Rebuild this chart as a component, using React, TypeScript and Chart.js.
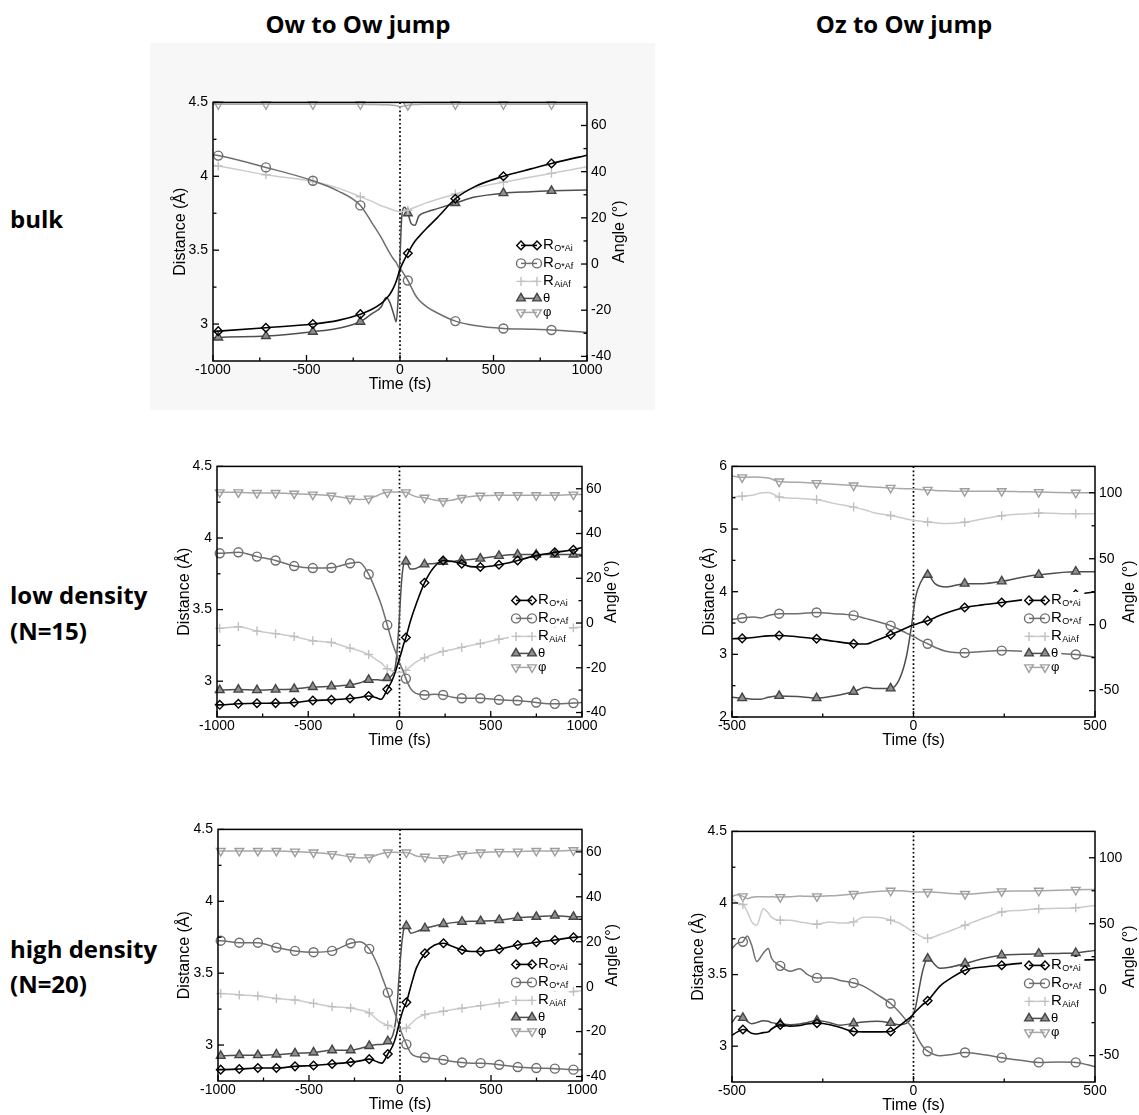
import React, { useEffect, useRef } from 'react';
import { Chart, registerables } from 'chart.js';
import { drawPoint } from 'chart.js/helpers';

Chart.register(...registerables);

const FONT = '"Liberation Sans", Arial, Helvetica, sans-serif';
const TITLE_FONT = '"Open Sans", "Noto Sans", sans-serif';

// ---------- labels ----------
const columnTitles = ['Ow to Ow jump', 'Oz to Ow jump'];
const rowTitles = [['bulk'], ['low density', '(N=15)'], ['high density', '(N=20)']];
const legendMain = ['R', 'R', 'R', 'θ', 'φ'];
const legendSub = ['O*Ai', 'O*Af', 'AiAf', '', ''];
const xTitle = 'Time (fs)';
const leftTitle = 'Distance (Å)';
const rightTitle = 'Angle (°)';

// ---------- tick values ----------
const owXTicks = [-1000, -500, 0, 500, 1000];
const owXMinor = [-750, -250, 250, 750];
const ozXTicks = [-500, 0, 500];
const ozXMinor = [-250, 250];
const distTicksA = [3, 3.5, 4, 4.5];
const distMinorA = [3.25, 3.75, 4.25];
const distTicksB = [2, 3, 4, 5, 6];
const distMinorB = [2.5, 3.5, 4.5, 5.5];
const angleTicksA = [-40, -20, 0, 20, 40, 60];
const angleMinorA = [-30, -10, 10, 30, 50];
const angleTicksB = [-50, 0, 50, 100];
const angleMinorB = [-25, 25, 75];

// ---------- bulk (Ow to Ow) ----------
const bulkTime = [-1000, -972, -717, -466, -330, -212, -150, -100, -75, -55, -35, -20, -10, 0, 10, 25, 42, 60, 80, 100, 140, 200, 296, 400, 553, 700, 810, 1000];
const bulkROAi = [2.95, 2.952, 2.975, 3.0, 3.025, 3.067, 3.1, 3.14, 3.17, 3.2, 3.245, 3.29, 3.33, 3.37, 3.4, 3.44, 3.479, 3.52, 3.56, 3.59, 3.645, 3.72, 3.848, 3.93, 4.0, 4.05, 4.087, 4.143];
const bulkROAf = [4.145, 4.14, 4.06, 3.97, 3.9, 3.803, 3.685, 3.585, 3.525, 3.48, 3.44, 3.415, 3.39, 3.375, 3.36, 3.33, 3.295, 3.25, 3.2, 3.165, 3.12, 3.075, 3.02, 2.99, 2.97, 2.965, 2.96, 2.945];
const bulkRAiAf = [4.075, 4.07, 4.01, 3.965, 3.92, 3.862, 3.83, 3.8, 3.79, 3.78, 3.77, 3.765, 3.762, 3.76, 3.76, 3.765, 3.77, 3.78, 3.79, 3.8, 3.82, 3.845, 3.88, 3.92, 3.96, 3.995, 4.02, 4.065];
const bulkTheta = [-32.0, -31.8, -31.2, -29.3, -27.8, -25.0, -21.5, -18.5, -14.5, -16.5, -21.4, -25.0, -15, 3, 21, 24.6, 22.0, 17.5, 16.8, 20.7, 22.5, 24.0, 26.4, 29.0, 30.7, 31.3, 31.7, 32.1];
const bulkPhi = [69.2, 69.2, 69.2, 69.2, 69.2, 69.2, 69.1, 69.0, 69.0, 68.9, 68.8, 68.6, 68.3, 68.0, 68.2, 68.5, 68.8, 69.0, 69.1, 69.1, 69.2, 69.2, 69.2, 69.2, 69.2, 69.2, 69.2, 69.2];
const bulkMarkers = [-972, -717, -466, -212, 42, 296, 553, 810];

// ---------- low density, Ow to Ow ----------
const owTime = [-1000, -985, -883, -781, -679, -577, -475, -373, -271, -220, -169, -120, -100, -67, -40, -20, -5, 10, 20, 35, 60, 90, 137, 190, 239, 290, 341, 390, 443, 545, 647, 749, 851, 953, 1000];
const owMarkers = [-985, -883, -781, -679, -577, -475, -373, -271, -169, -67, 35, 137, 239, 341, 443, 545, 647, 749, 851, 953];
const lowOwROAi = [2.835, 2.835, 2.842, 2.846, 2.847, 2.851, 2.865, 2.87, 2.879, 2.886, 2.897, 2.881, 2.874, 2.943, 3.007, 3.076, 3.14, 3.2, 3.247, 3.305, 3.42, 3.534, 3.687, 3.797, 3.843, 3.836, 3.82, 3.8, 3.797, 3.813, 3.843, 3.877, 3.9, 3.918, 3.934];
const lowOwROAf = [3.893, 3.893, 3.9, 3.87, 3.843, 3.804, 3.79, 3.792, 3.824, 3.831, 3.747, 3.602, 3.534, 3.392, 3.27, 3.2, 3.144, 3.099, 3.071, 3.018, 2.95, 2.915, 2.904, 2.908, 2.904, 2.888, 2.881, 2.881, 2.881, 2.87, 2.865, 2.851, 2.842, 2.847, 2.851];
const lowOwRAiAf = [3.369, 3.369, 3.38, 3.35, 3.332, 3.312, 3.282, 3.27, 3.231, 3.213, 3.186, 3.144, 3.128, 3.087, 3.071, 3.064, 3.06, 3.06, 3.064, 3.076, 3.103, 3.133, 3.163, 3.19, 3.208, 3.222, 3.236, 3.25, 3.263, 3.293, 3.316, 3.334, 3.355, 3.373, 3.378];
const lowOwTheta = [-30.0, -30.0, -29.75, -30.0, -29.75, -29.46, -28.6, -28.3, -27.6, -26.8, -25.4, -25.4, -25.6, -24.6, -23.2, -18.0, -3.4, 17.1, 25.2, 27.5, 24.1, 24.4, 26.2, 26.6, 27.4, 27.6, 28.1, 28.4, 28.8, 30.0, 30.6, 30.6, 30.6, 30.6, 30.6];
const lowOwPhi = [58.4, 58.4, 58.4, 58.1, 58.1, 57.8, 57.4, 56.9, 55.6, 55.2, 55.6, 57.0, 57.8, 58.4, 58.6, 58.6, 58.5, 58.5, 58.4, 58.4, 57.5, 56.5, 56.0, 55.0, 54.4, 55.0, 55.9, 56.5, 56.9, 57.1, 57.1, 57.1, 57.1, 57.4, 57.4];

// ---------- high density, Ow to Ow ----------
const highOwROAi = [2.829, 2.829, 2.833, 2.84, 2.84, 2.852, 2.858, 2.868, 2.881, 2.89, 2.902, 2.881, 2.874, 2.938, 2.995, 3.069, 3.148, 3.217, 3.256, 3.297, 3.411, 3.537, 3.639, 3.696, 3.708, 3.685, 3.662, 3.651, 3.651, 3.667, 3.696, 3.715, 3.731, 3.749, 3.753];
const highOwROAf = [3.726, 3.726, 3.712, 3.712, 3.678, 3.655, 3.646, 3.655, 3.708, 3.719, 3.669, 3.548, 3.479, 3.365, 3.263, 3.194, 3.137, 3.08, 3.05, 3.005, 2.943, 2.92, 2.913, 2.904, 2.897, 2.886, 2.879, 2.874, 2.874, 2.863, 2.847, 2.84, 2.836, 2.829, 2.829];
const highOwRAiAf = [3.358, 3.358, 3.349, 3.342, 3.324, 3.313, 3.29, 3.267, 3.258, 3.244, 3.224, 3.171, 3.155, 3.137, 3.123, 3.114, 3.112, 3.112, 3.114, 3.119, 3.148, 3.183, 3.212, 3.224, 3.235, 3.247, 3.256, 3.265, 3.274, 3.292, 3.308, 3.324, 3.347, 3.372, 3.377];
const highOwTheta = [-30.8, -30.8, -30.5, -30.5, -30.2, -29.7, -29.3, -28.3, -28.3, -27.5, -26.4, -25.8, -25.8, -24.3, -21.7, -12.9, 4.7, 19.4, 25.2, 27.0, 23.8, 24.5, 26.0, 27.0, 27.9, 28.5, 28.9, 29.1, 29.2, 29.6, 30.7, 31.1, 31.6, 31.1, 31.1];
const highOwPhi = [60.4, 60.4, 60.4, 60.4, 60.4, 60.1, 59.7, 59.0, 57.8, 57.3, 57.5, 58.8, 59.3, 59.7, 59.8, 59.8, 59.7, 59.7, 59.7, 59.7, 59.2, 58.2, 57.8, 57.2, 57.2, 58.2, 59.0, 59.4, 59.7, 60.0, 60.1, 60.4, 60.4, 60.7, 60.7];

// ---------- low density, Oz to Ow ----------
const lowOzTime = [-500, -472, -440, -420, -400, -370, -320, -267, -220, -165, -130, -110, -63, -40, -20, -5, 5, 20, 39, 60, 90, 141, 190, 243, 300, 345, 447, 500];
const lowOzMarkers = [-472, -370, -267, -165, -63, 39, 141, 243, 345, 447];
const lowOzROAi = [3.25, 3.255, 3.27, 3.285, 3.295, 3.302, 3.28, 3.25, 3.21, 3.17, 3.165, 3.205, 3.312, 3.37, 3.42, 3.46, 3.48, 3.51, 3.538, 3.59, 3.66, 3.748, 3.79, 3.827, 3.87, 3.906, 3.958, 3.995];
const lowOzROAf = [3.555, 3.58, 3.595, 3.58, 3.62, 3.649, 3.65, 3.669, 3.65, 3.622, 3.57, 3.54, 3.459, 3.4, 3.34, 3.3, 3.27, 3.22, 3.17, 3.11, 3.05, 3.024, 3.045, 3.06, 3.05, 3.03, 2.997, 2.955];
const lowOzRAiAf = [5.51, 5.523, 5.545, 5.575, 5.585, 5.512, 5.49, 5.47, 5.41, 5.35, 5.3, 5.26, 5.217, 5.19, 5.16, 5.145, 5.135, 5.125, 5.113, 5.1, 5.087, 5.108, 5.16, 5.213, 5.24, 5.255, 5.244, 5.245];
const lowOzTheta = [-55, -55.7, -56.5, -56.5, -55, -54.0, -54.5, -55.7, -54, -50.8, -47.5, -48.3, -48.3, -42, -24.7, 0, 20, 32.3, 37.8, 31, 28.6, 31.1, 31.1, 32.8, 36, 37.8, 40.2, 40.2];
const lowOzPhi = [112.8, 111.7, 112, 111.7, 111.2, 108.5, 108, 107.3, 106.5, 105.5, 104.8, 104.4, 103.7, 103.3, 103.1, 103, 102.8, 102.5, 102.2, 101.8, 101.5, 101.2, 101.2, 101.2, 100.8, 100.5, 100, 100];

// ---------- high density, Oz to Ow ----------
const highOzTime = [-500, -485, -470, -458, -446, -432, -414, -400, -391, -367, -340, -313, -294, -266, -230, -202, -165, -138, -101, -63, -40, -20, -5, 5, 15, 25, 39, 73, 100, 142, 200, 243, 300, 345, 400, 447, 500];
const highOzMarkers = [-470, -367, -266, -165, -63, 39, 142, 243, 345, 447];
const highOzROAi = [3.076, 3.1, 3.117, 3.11, 3.09, 3.085, 3.095, 3.1, 3.12, 3.149, 3.14, 3.145, 3.155, 3.16, 3.15, 3.13, 3.103, 3.1, 3.1, 3.103, 3.14, 3.18, 3.21, 3.24, 3.265, 3.29, 3.317, 3.42, 3.47, 3.531, 3.555, 3.565, 3.58, 3.585, 3.595, 3.6, 3.604];
const highOzROAf = [3.683, 3.72, 3.729, 3.77, 3.706, 3.592, 3.649, 3.683, 3.614, 3.561, 3.523, 3.541, 3.504, 3.477, 3.477, 3.459, 3.442, 3.42, 3.362, 3.298, 3.24, 3.18, 3.133, 3.09, 3.04, 3.0, 2.965, 2.933, 2.94, 2.956, 2.938, 2.92, 2.9, 2.887, 2.89, 2.887, 2.857];
const highOzRAiAf = [4.03, 4.0, 3.99, 3.94, 3.87, 3.845, 3.96, 3.93, 3.9, 3.88, 3.88, 3.868, 3.86, 3.852, 3.868, 3.86, 3.868, 3.9, 3.9, 3.88, 3.86, 3.83, 3.805, 3.79, 3.775, 3.762, 3.753, 3.78, 3.805, 3.845, 3.9, 3.937, 3.95, 3.96, 3.963, 3.967, 3.983];
const highOzTheta = [-25, -20, -21.4, -24, -25.9, -25, -23.5, -24, -25, -25.9, -26.5, -26, -25, -23.4, -25, -27, -25.5, -24.5, -24, -25.2, -26.5, -25.5, -21, -14, 0, 14, 23.6, 16.2, 17, 19.9, 24, 26.1, 26.8, 27.3, 27.5, 27.8, 29.8];
const highOzPhi = [70.7, 72, 70.7, 69, 70, 70.5, 70.5, 70.3, 70.5, 70.2, 70.5, 71, 70.8, 70.7, 71.2, 71.5, 72.5, 73.5, 74.5, 75, 75, 74.7, 74.3, 74.1, 74, 74, 74, 73.6, 73, 72.5, 73.5, 74.5, 74.8, 75, 75.3, 75.7, 76];

// ---------- styles ----------
type SeriesStyle = { line: string; border: string; fill: string; shape: string; r: number; rot: number; axis: string; lw: number };
const seriesStyles: SeriesStyle[] = [
  { line: '#000000', border: '#000000', fill: 'rgba(255,255,255,0)', shape: 'rectRot', r: 4.3, rot: 0, axis: 'y', lw: 1.6 },
  { line: '#6e6e6e', border: '#6e6e6e', fill: 'rgba(255,255,255,0)', shape: 'circle', r: 4.5, rot: 0, axis: 'y', lw: 1.5 },
  { line: '#cbcbcb', border: '#c0c0c0', fill: 'rgba(255,255,255,0)', shape: 'cross', r: 4.5, rot: 0, axis: 'y', lw: 1.5 },
  { line: '#4e4e4e', border: '#444444', fill: '#8f8f8f', shape: 'triangle', r: 5, rot: 0, axis: 'y2', lw: 1.5 },
  { line: '#a8a8a8', border: '#9e9e9e', fill: 'rgba(255,255,255,0)', shape: 'triangle', r: 5, rot: 180, axis: 'y2', lw: 1.5 },
];
const legendOffsets = [0, 18, 36, 53, 67];

type PanelCfg = {
  area: { left: number; top: number; width: number; height: number };
  time: number[];
  series: number[][];
  markers: number[];
  xr: [number, number];
  dr: [number, number];
  ar: [number, number];
  xt: number[]; xm: number[];
  dt: number[]; dm: number[];
  at: number[]; am: number[];
  ltx: number; rtx: number; lgTop: number;
};

const panels: PanelCfg[] = [
  { area: { left: 213, top: 99, width: 374, height: 262 }, time: bulkTime, series: [bulkROAi, bulkROAf, bulkRAiAf, bulkTheta, bulkPhi], markers: bulkMarkers, xr: [-1000, 1000], dr: [2.75, 4.5], ar: [-42, 70], xt: owXTicks, xm: owXMinor, dt: distTicksA, dm: distMinorA, at: angleTicksA, am: angleMinorA, ltx: -32, rtx: 33, lgTop: 143 },
  { area: { left: 217, top: 463, width: 365, height: 254 }, time: owTime, series: [lowOwROAi, lowOwROAf, lowOwRAiAf, lowOwTheta, lowOwPhi], markers: owMarkers, xr: [-1000, 1000], dr: [2.75, 4.5], ar: [-42, 70], xt: owXTicks, xm: owXMinor, dt: distTicksA, dm: distMinorA, at: angleTicksA, am: angleMinorA, ltx: -32, rtx: 30, lgTop: 134 },
  { area: { left: 732, top: 463, width: 363, height: 254 }, time: lowOzTime, series: [lowOzROAi, lowOzROAf, lowOzRAiAf, lowOzTheta, lowOzPhi], markers: lowOzMarkers, xr: [-500, 500], dr: [2, 6], ar: [-70, 120], xt: ozXTicks, xm: ozXMinor, dt: distTicksB, dm: distMinorB, at: angleTicksB, am: angleMinorB, ltx: -22, rtx: 35, lgTop: 134 },
  { area: { left: 218, top: 826, width: 364, height: 255 }, time: owTime, series: [highOwROAi, highOwROAf, highOwRAiAf, highOwTheta, highOwPhi], markers: owMarkers, xr: [-1000, 1000], dr: [2.75, 4.5], ar: [-42, 70], xt: owXTicks, xm: owXMinor, dt: distTicksA, dm: distMinorA, at: angleTicksA, am: angleMinorA, ltx: -33, rtx: 31, lgTop: 135 },
  { area: { left: 732, top: 828, width: 363, height: 254 }, time: highOzTime, series: [highOzROAi, highOzROAf, highOzRAiAf, highOzTheta, highOzPhi], markers: highOzMarkers, xr: [-500, 500], dr: [2.75, 4.5], ar: [-70, 120], xt: ozXTicks, xm: ozXMinor, dt: distTicksA, dm: distMinorA, at: angleTicksB, am: angleMinorB, ltx: -33, rtx: 35, lgTop: 134 },
];

const WL = 46, WR = 48, PT = 10, HX = 34;

function Panel({ cfg }: { cfg: PanelCfg }) {
  const ref = useRef<HTMLCanvasElement>(null);
  const cw = WL + cfg.area.width + WR;
  const ch = PT + cfg.area.height + HX;

  useEffect(() => {
    const canvas = ref.current;
    if (!canvas) return;

    const datasets = cfg.series.map((vals, si) => {
      const st = seriesStyles[si];
      return {
        label: legendMain[si] + legendSub[si],
        data: cfg.time.map((t, i) => ({ x: t, y: vals[i] })),
        yAxisID: st.axis,
        borderColor: st.line,
        borderWidth: st.lw,
        pointStyle: st.shape,
        pointRotation: st.rot,
        pointBorderColor: st.border,
        pointBackgroundColor: st.fill,
        pointBorderWidth: 1.4,
        pointRadius: (ctx: any) => (ctx.raw && cfg.markers.includes(ctx.raw.x) ? st.r : 0),
        pointHoverRadius: 0,
        cubicInterpolationMode: 'monotone',
        fill: false,
        clip: false,
      };
    });

    const deco = {
      id: 'deco',
      beforeDraw(chart: any) {
        const a = chart.chartArea;
        const c = chart.ctx;
        c.save();
        c.fillStyle = '#ffffff';
        c.fillRect(a.left, a.top, a.right - a.left, a.bottom - a.top);
        c.restore();
      },
      beforeDatasetsDraw(chart: any) {
        const a = chart.chartArea;
        const c = chart.ctx;
        const x0 = chart.scales.x.getPixelForValue(0);
        c.save();
        c.strokeStyle = '#000';
        c.lineWidth = 1.7;
        c.setLineDash([1.7, 2.4]);
        c.beginPath();
        c.moveTo(x0, a.top);
        c.lineTo(x0, a.bottom);
        c.stroke();
        c.restore();
      },
      afterDatasetsDraw(chart: any) {
        const a = chart.chartArea;
        const c = chart.ctx;
        const xs = chart.scales.x, ys = chart.scales.y, y2s = chart.scales.y2;
        c.save();
        c.strokeStyle = '#000';
        c.lineWidth = 1.5;
        c.setLineDash([]);
        c.strokeRect(a.left, a.top, a.right - a.left, a.bottom - a.top);
        const seg = (x1: number, y1: number, x2: number, y2: number) => {
          c.beginPath(); c.moveTo(x1, y1); c.lineTo(x2, y2); c.stroke();
        };
        c.lineWidth = 1.3;
        cfg.dt.forEach(v => { const y = ys.getPixelForValue(v); seg(a.left, y, a.left + 6, y); });
        cfg.dm.forEach(v => { const y = ys.getPixelForValue(v); seg(a.left, y, a.left + 3.5, y); });
        cfg.at.forEach(v => { const y = y2s.getPixelForValue(v); seg(a.right, y, a.right - 6, y); });
        cfg.am.forEach(v => { const y = y2s.getPixelForValue(v); seg(a.right, y, a.right - 3.5, y); });
        cfg.xt.forEach(v => { const x = xs.getPixelForValue(v); seg(x, a.bottom, x, a.bottom - 6); });
        cfg.xm.forEach(v => { const x = xs.getPixelForValue(v); seg(x, a.bottom, x, a.bottom - 3.5); });

        c.fillStyle = '#000';
        c.font = `16px ${FONT}`;
        c.textAlign = 'center';
        c.textBaseline = 'middle';
        c.fillText(xTitle, (a.left + a.right) / 2, a.bottom + 24);
        const cy = (a.top + a.bottom) / 2;
        c.save();
        c.translate(a.left + cfg.ltx, cy);
        c.rotate(-Math.PI / 2);
        c.fillText(leftTitle, 0, 0);
        c.restore();
        c.save();
        c.translate(a.right + cfg.rtx, cy);
        c.rotate(-Math.PI / 2);
        c.fillText(rightTitle, 0, 0);
        c.restore();

        const lx0 = a.right - 66, lx1 = a.right - 50, tx = a.right - 44;
        const rowY = legendOffsets.map(o => a.top + cfg.lgTop + o);
        const widths = legendMain.map((m, i) => {
          let w;
          if (legendSub[i]) {
            c.font = `15px ${FONT}`; w = c.measureText(m).width;
            c.font = `9px ${FONT}`; w += c.measureText(legendSub[i]).width + 1;
          } else {
            c.font = `13px ${FONT}`; w = c.measureText(m).width;
          }
          return w;
        });
        c.fillStyle = '#ffffff';
        rowY.forEach((y, i) => {
          c.fillRect(lx0 - 7, y - 8.5, tx + widths[i] + 3 - (lx0 - 7), 17);
        });
        rowY.forEach((y, i) => {
          const st = seriesStyles[i];
          c.setLineDash([]);
          c.strokeStyle = st.line;
          c.lineWidth = st.lw;
          seg(lx0, y, lx1, y);
          c.lineWidth = 1.4;
          [lx0, lx1].forEach(px => {
            c.strokeStyle = st.border;
            c.fillStyle = st.fill;
            drawPoint(c, { pointStyle: st.shape, radius: st.r, rotation: st.rot, borderWidth: 1.4 } as any, px, y);
          });
          c.fillStyle = '#000';
          c.textAlign = 'left';
          if (legendSub[i]) {
            c.textBaseline = 'alphabetic';
            c.font = `15px ${FONT}`;
            c.fillText(legendMain[i], tx, y + 3.5);
            const w = c.measureText(legendMain[i]).width;
            c.font = `9px ${FONT}`;
            c.fillText(legendSub[i], tx + w + 0.5, y + 5.8);
          } else {
            c.textBaseline = 'middle';
            c.font = `13px ${FONT}`;
            c.fillText(legendMain[i], tx, y + 0.5);
          }
        });
        c.restore();
      },
    };

    const tickFont = { family: FONT, size: 14 };
    const chart = new Chart(canvas, {
      type: 'line',
      data: { datasets: datasets as any },
      options: {
        responsive: false,
        animation: false,
        events: [],
        layout: { padding: { top: PT, left: 0, right: 0, bottom: 0 } },
        plugins: { legend: { display: false }, tooltip: { enabled: false } },
        scales: {
          x: {
            type: 'linear', position: 'bottom', min: cfg.xr[0], max: cfg.xr[1],
            afterBuildTicks: (s: any) => { s.ticks = cfg.xt.map(v => ({ value: v })); },
            afterFit: (s: any) => { s.height = HX; },
            ticks: { callback: (v: any) => String(v), font: tickFont, color: '#000', padding: 1, maxRotation: 0, autoSkip: false },
            grid: { display: false, drawTicks: false },
            border: { display: false },
          },
          y: {
            type: 'linear', position: 'left', min: cfg.dr[0], max: cfg.dr[1],
            afterBuildTicks: (s: any) => { s.ticks = cfg.dt.map(v => ({ value: v })); },
            afterFit: (s: any) => { s.width = WL; },
            ticks: { callback: (v: any) => String(v), font: tickFont, color: '#000', padding: 5, autoSkip: false },
            grid: { display: false, drawTicks: false },
            border: { display: false },
          },
          y2: {
            type: 'linear', position: 'right', min: cfg.ar[0], max: cfg.ar[1],
            afterBuildTicks: (s: any) => { s.ticks = cfg.at.map(v => ({ value: v })); },
            afterFit: (s: any) => { s.width = WR; },
            ticks: { callback: (v: any) => String(v), font: tickFont, color: '#000', padding: 4, autoSkip: false },
            grid: { display: false, drawTicks: false },
            border: { display: false },
          },
        },
      } as any,
      plugins: [deco],
    });
    return () => chart.destroy();
  }, []);

  return (
    <canvas
      ref={ref}
      width={cw}
      height={ch}
      style={{ position: 'absolute', left: cfg.area.left - WL, top: cfg.area.top - PT, width: cw, height: ch }}
    />
  );
}

const labelStyle: React.CSSProperties = {
  position: 'absolute',
  fontFamily: TITLE_FONT,
  fontWeight: 700,
  fontSize: 24,
  lineHeight: '24px',
  color: '#000',
  whiteSpace: 'nowrap',
};

export default function App() {
  return (
    <div style={{ position: 'absolute', left: 0, top: 0, width: 1139, height: 1115, background: '#ffffff', overflow: 'hidden' }}>
      <div style={{ position: 'absolute', left: 150, top: 43, width: 505, height: 367, background: '#f7f7f7' }} />
      <div style={{ ...labelStyle, left: 358 - 150, top: 12, width: 300, textAlign: 'center' }}>{columnTitles[0]}</div>
      <div style={{ ...labelStyle, left: 904 - 150, top: 12, width: 300, textAlign: 'center' }}>{columnTitles[1]}</div>
      <div style={{ ...labelStyle, left: 10, top: 207 }}>{rowTitles[0][0]}</div>
      <div style={{ ...labelStyle, left: 10, top: 583 }}>{rowTitles[1][0]}</div>
      <div style={{ ...labelStyle, left: 10, top: 619 }}>{rowTitles[1][1]}</div>
      <div style={{ ...labelStyle, left: 10, top: 937 }}>{rowTitles[2][0]}</div>
      <div style={{ ...labelStyle, left: 10, top: 972 }}>{rowTitles[2][1]}</div>
      {panels.map((p, i) => (
        <Panel key={i} cfg={p} />
      ))}
    </div>
  );
}
